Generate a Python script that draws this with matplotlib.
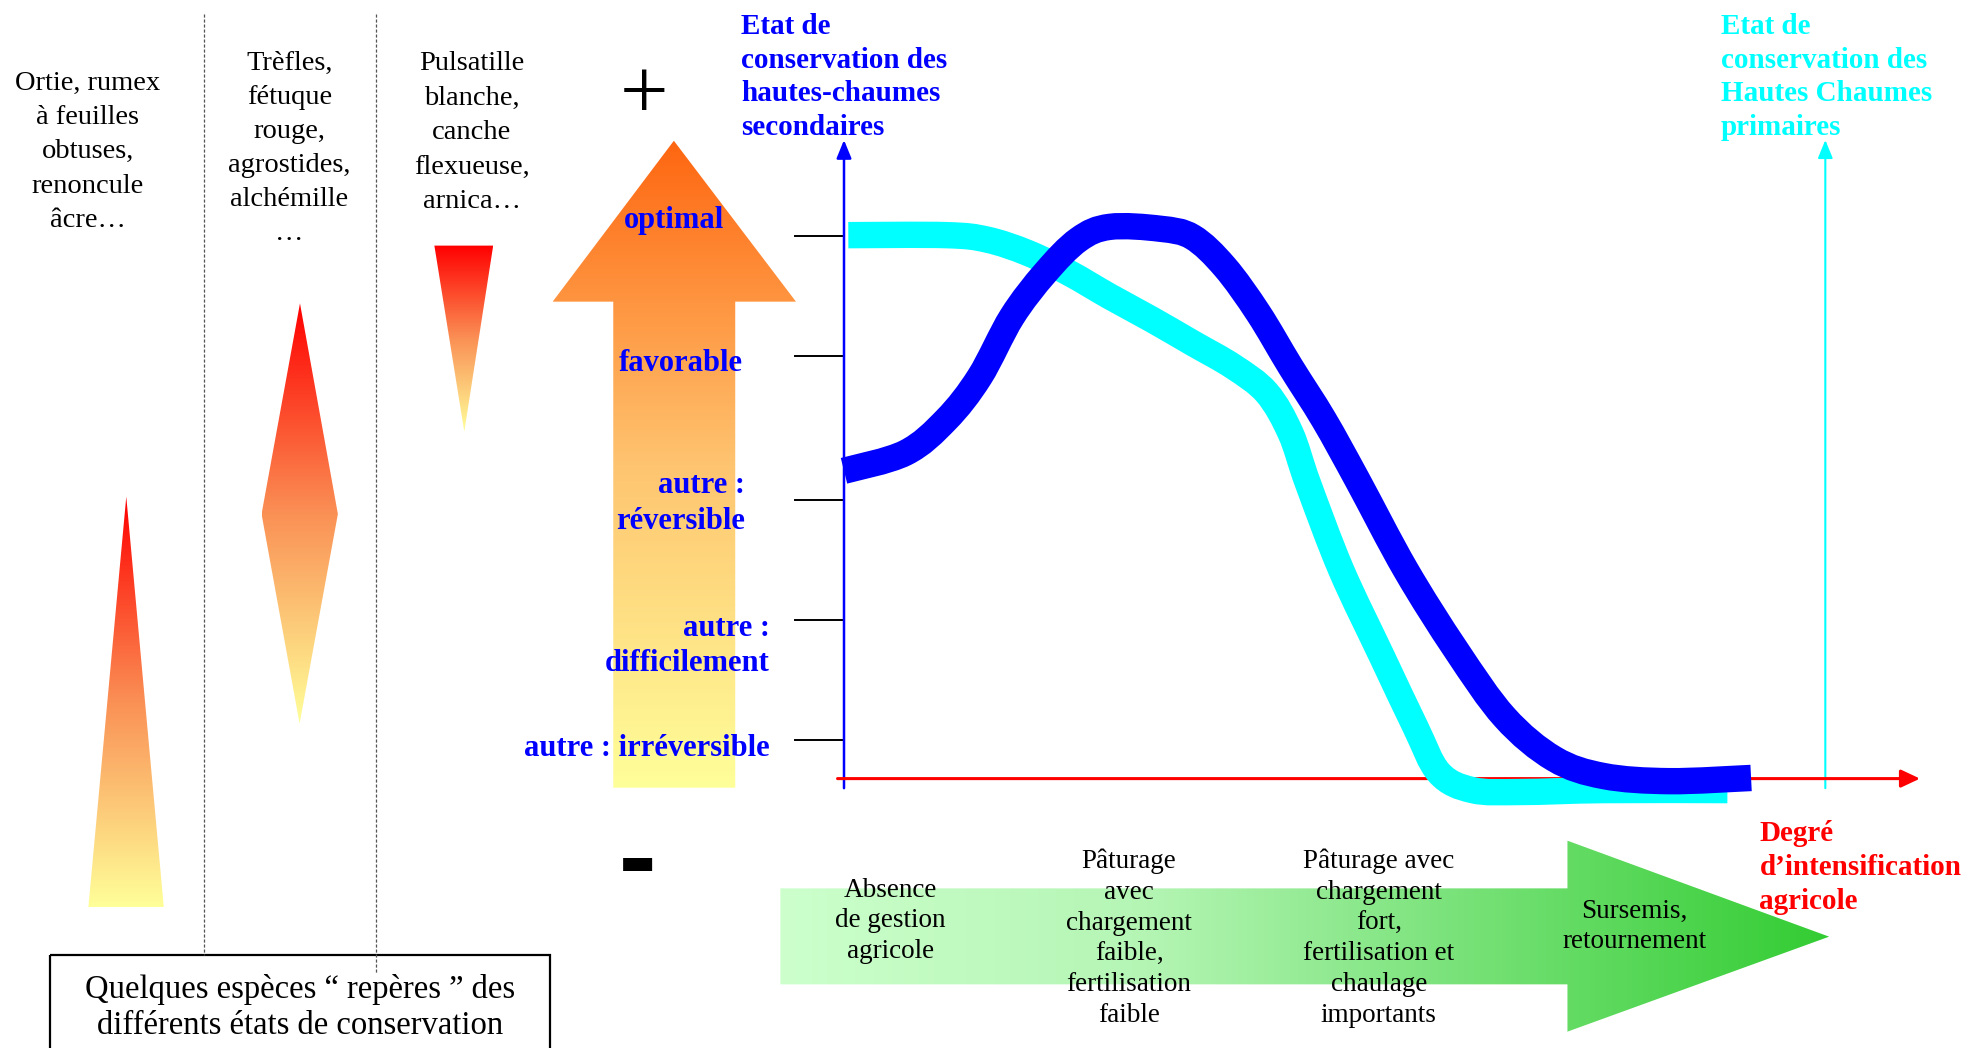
import numpy as np
import matplotlib.pyplot as plt
from matplotlib.patches import Polygon, Rectangle, PathPatch
from matplotlib.path import Path
from matplotlib.colors import to_rgb

plt.rcParams['font.family'] = ['Liberation Serif', 'DejaVu Serif']

# conservation state (0-100) against degree of agricultural intensification (0-100)
x_secondaires = [0.0, 5.7, 9.5, 12.6, 15.6, 18.7, 21.8, 24.7, 29.4, 32.4, 35.4, 38.5,
                 41.5, 44.6, 47.7, 52.2, 56.9, 61.4, 66.0, 70.6, 76.7, 84.3]
y_secondaires = [48.2, 51.0, 56.2, 62.9, 72.3, 79.2, 84.4, 86.4, 86.1, 84.8, 80.1, 72.9,
                 64.5, 56.2, 46.8, 32.7, 20.1, 9.6, 3.1, 0.4, -0.4, 0.1]
x_primaires = [0.4, 9.5, 13.3, 17.1, 20.9, 24.7, 28.6, 32.4, 36.2, 39.3, 41.5, 43.1,
               46.2, 50.0, 53.1, 55.3, 58.4, 62.9, 70.6, 82.1]
y_primaires = [85.1, 85.1, 84.4, 82.3, 79.2, 75.5, 71.9, 68.2, 64.5, 60.4, 54.1, 46.3,
               32.7, 19.1, 8.1, 0.9, -1.8, -2.1, -1.8, -1.8]

state_ticks = [85.0, 66.2, 43.7, 24.9, 6.1]
state_labels = ['optimal', 'favorable', 'autre :\nréversible', 'autre :\ndifficilement',
                'autre : irréversible']
x_primary_axis = 91.2

species = ['Ortie, rumex\nà feuilles\nobtuses,\nrenoncule\nâcre…',
           'Trèfles,\nfétuque\nrouge,\nagrostides,\nalchémille\n…',
           'Pulsatille\nblanche,\ncanche\nflexueuse,\narnica…']
practices = ['Absence\nde gestion\nagricole',
             'Pâturage\navec\nchargement\nfaible,\nfertilisation\nfaible',
             'Pâturage avec\nchargement\nfort,\nfertilisation et\nchaulage\nimportants',
             'Sursemis,\nretournement']

BLUE = '#0000FF'
CYAN = '#00FFFF'
RED = '#FF0000'
DY = 2.7  # text centre offset


def grad_fill(ax, verts, stops, horizontal=False, z=1):
    verts = np.asarray(verts, float)
    pos = [s[0] for s in stops]
    cols = np.array([to_rgb(s[1]) for s in stops])
    t = np.linspace(0, 1, 300)
    rgb = np.stack([np.interp(t, pos, cols[:, k]) for k in range(3)], axis=-1)
    img = rgb[None, :, :] if horizontal else rgb[:, None, :]
    x0, x1 = verts[:, 0].min(), verts[:, 0].max()
    y0, y1 = verts[:, 1].min(), verts[:, 1].max()
    patch = Polygon(verts, closed=True, fc='none', ec='none')
    ax.add_patch(patch)
    im = ax.imshow(img, extent=(x0, x1, y1, y0), aspect='auto', zorder=z,
                   interpolation='bilinear')
    im.set_clip_path(patch)


def lines(ax, x, y0, text, dy, **kw):
    for i, s in enumerate(text.split('\n')):
        ax.text(x, y0 + i * dy + DY, s, va='center', **kw)


def smooth_path(xs, ys):
    # Catmull-Rom through the points, drawn as cubic Bezier segments
    p = np.column_stack([xs, ys]).astype(float)
    q = np.vstack([p[0], p, p[-1]])
    verts = [p[0]]
    codes = [Path.MOVETO]
    for i in range(1, len(q) - 2):
        c1 = q[i] + (q[i + 1] - q[i - 1]) / 6
        c2 = q[i + 1] - (q[i + 2] - q[i]) / 6
        verts += [c1, c2, q[i + 1]]
        codes += [Path.CURVE4] * 3
    return Path(verts, codes)


fig = plt.figure(figsize=(19.88, 10.48), dpi=100)
ax = fig.add_axes([0, 0, 1, 1])

# left panel: indicator species
red_yellow = [(0, '#FF0000'), (0.5, '#FA9055'), (1, '#FFFF99')]
grad_fill(ax, [(99.6, 391.7), (129.2, 715.5), (69.7, 715.5)], red_yellow)
grad_fill(ax, [(236.6, 239.2), (266.5, 405.4), (236.3, 570.7), (206.3, 405.4)], red_yellow)
grad_fill(ax, [(342.6, 193.7), (389.0, 193.7), (366.2, 340.4)], red_yellow)

ax.plot([160.9, 160.9], [11, 753], color='#555555', lw=0.9, ls=(0, (2.5, 1.5)))
ax.plot([296.8, 296.8], [11, 767], color='#555555', lw=0.9, ls=(0, (2.5, 1.5)))

lines(ax, 69.4, 63.1, species[0], 27.0, ha='center', fontsize=20.5)
lines(ax, 228.1, 47.3, species[1], 26.9, ha='center', fontsize=20.5)
lines(ax, 372.1, 47.3, species[2], 27.3, ha='center', fontsize=20.5)

ax.add_patch(Rectangle((39.2, 753.2), 394.6, 120, fill=False, ec='black', lw=1.6))
lines(ax, 236.5, 778.0, 'Quelques espèces “ repères ” des\ndifférents états de conservation',
      28.5, ha='center', fontsize=23.5)

# orange scale arrow
grad_fill(ax, [(483.7, 621.2), (483.7, 237.9), (435.9, 237.9), (531.5, 111.0),
               (627.8, 237.9), (579.9, 237.9), (579.9, 621.2)],
          [(0, '#FF6611'), (0.5, '#FEC470'), (1, '#FFFF99')])
ax.text(508, 94, '+', ha='center', va='baseline', fontsize=62)
ax.text(503, 703.5, '-', ha='center', va='baseline', fontsize=68,
        family='DejaVu Sans', fontweight='bold')

lab = dict(color=BLUE, fontweight='bold', fontsize=22)
ax.text(531.5, 170.9 + DY, state_labels[0], ha='center', va='center', **lab)
ax.text(537.3, 283.9 + DY, state_labels[1], ha='center', va='center', **lab)
lines(ax, 587.5, 379.9, state_labels[2], 28.9, ha='right', **lab)
lines(ax, 607.3, 492.9, state_labels[3], 27.6, ha='right', **lab)
ax.text(607.3, 587.5 + DY, state_labels[4], ha='right', va='center', **lab)

hdr = dict(fontweight='bold', fontsize=21, ha='left')
lines(ax, 584.5, 18.4, 'Etat de\nconservation des\nhautes-chaumes\nsecondaires', 26.5,
      color=BLUE, **hdr)
lines(ax, 1357.3, 18.4, 'Etat de\nconservation des\nHautes Chaumes\nprimaires', 26.5,
      color=CYAN, **hdr)
lines(ax, 1387.7, 654.8, 'Degré\nd’intensification\nagricole', 26.9, color=RED, **hdr)

# green intensification arrow
grad_fill(ax, [(615.5, 700.6), (1236.3, 700.6), (1236.3, 663.0), (1442.7, 738.7),
               (1236.3, 813.6), (1236.3, 776.3), (615.5, 776.3)],
          [(0, '#CCFFCC'), (0.35, '#B4F5B4'), (1, '#33CC33')], horizontal=True)
lines(ax, 702.4, 699.3, practices[0], 24.3, ha='center', fontsize=19.5)
lines(ax, 890.5, 676.9, practices[1], 24.2, ha='center', fontsize=19.5)
lines(ax, 1087.5, 676.9, practices[2], 24.2, ha='center', fontsize=19.5)
lines(ax, 1288.9, 716.3, practices[3], 23.5, ha='center', fontsize=19.5)

ax.set_xlim(0, 1568)
ax.set_ylim(826.5, 0)
ax.axis('off')

# chart of the two conservation curves
cax = fig.add_axes([0.42455, 0.25706, 0.54125, 0.60935])
cax.set_xlim(0, 100)
cax.set_ylim(0, 100)
cax.axis('off')

cax.annotate('', xy=(0, 100), xytext=(0, -1.5), annotation_clip=False,
             arrowprops=dict(arrowstyle='-|>,head_length=11,head_width=4.5', color=BLUE,
                             lw=1.8, shrinkA=0, shrinkB=0, mutation_scale=1))
cax.annotate('', xy=(x_primary_axis, 100), xytext=(x_primary_axis, -1.5), annotation_clip=False,
             arrowprops=dict(arrowstyle='-|>,head_length=11,head_width=4.5', color=CYAN,
                             lw=1.5, shrinkA=0, shrinkB=0, mutation_scale=1))
cax.annotate('', xy=(100, 0), xytext=(-0.6, 0), annotation_clip=False,
             arrowprops=dict(arrowstyle='-|>,head_length=11.5,head_width=5.4', color=RED,
                             lw=2.2, shrinkA=0, shrinkB=0, mutation_scale=1))
for yt in state_ticks:
    cax.plot([-4.55, 0], [yt, yt], color='black', lw=1.4, clip_on=False)

for xs, ys, col, z in [(x_primaires, y_primaires, CYAN, 3),
                       (x_secondaires, y_secondaires, BLUE, 4)]:
    pp = PathPatch(smooth_path(xs, ys), fc='none', ec=col, lw=19,
                   capstyle='butt', joinstyle='round', clip_on=False, zorder=z)
    cax.add_patch(pp)

fig.savefig('out.png', dpi=100)
